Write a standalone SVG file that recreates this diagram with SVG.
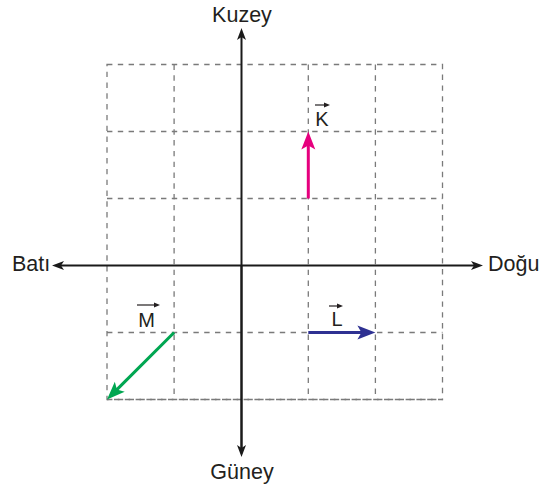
<svg xmlns="http://www.w3.org/2000/svg" width="550" height="488" viewBox="0 0 550 488">
<style>
.grid{stroke:#7a7a7a;stroke-width:1.3;stroke-dasharray:5.4 5.4;fill:none}
.axis{stroke:#1a1a1a;stroke-width:2;fill:none}
.lbl{font-family:"Liberation Sans",Arial,sans-serif;font-size:21.5px;fill:#231f20}
.vl{font-family:"Liberation Sans",Arial,sans-serif;font-size:20px;fill:#231f20}
.small{stroke:#231f20;stroke-width:1.2;fill:none}
</style>
<defs>
<marker id="ah" markerUnits="userSpaceOnUse" viewBox="-8 -6 16 12" markerWidth="16" markerHeight="12" refX="0" refY="0" orient="auto" overflow="visible">
<path d="M-6,-4.5 L6,0 L-6,4.5 L-3,0 Z" fill="#1a1a1a"/>
</marker>
<marker id="sh" markerUnits="userSpaceOnUse" viewBox="-6 -4 10 8" markerWidth="10" markerHeight="8" refX="0" refY="0" orient="auto" overflow="visible">
<path d="M-3,-2.5 L3,0 L-3,2.5 Z" fill="#231f20"/>
</marker>
<marker id="mk" markerUnits="userSpaceOnUse" viewBox="-10 -8 22 16" markerWidth="22" markerHeight="16" refX="0" refY="0" orient="auto" overflow="visible">
<path d="M-8,-7 L10,0 L-8,7 L-4,0 Z" fill="#e6007e"/>
</marker>
<marker id="ml" markerUnits="userSpaceOnUse" viewBox="-10 -8 22 16" markerWidth="22" markerHeight="16" refX="0" refY="0" orient="auto" overflow="visible">
<path d="M-8,-7 L10,0 L-8,7 L-4,0 Z" fill="#2e3192"/>
</marker>
<marker id="mm" markerUnits="userSpaceOnUse" viewBox="-10 -8 22 16" markerWidth="22" markerHeight="16" refX="0" refY="0" orient="auto" overflow="visible">
<path d="M-8,-7 L10,0 L-8,7 L-4,0 Z" fill="#00a651"/>
</marker>
</defs>
<g id="grid">
<rect class="grid" x="107" y="64.5" width="335.5" height="335"/>
<path class="grid" d="M174.1,64.5V399.5M308.3,64.5V399.5M375.4,64.5V399.5M107,131.5H442.5M107,198.5H442.5M107,332.5H442.5M107,399.5H442.5"/>
</g>
<g id="connectors">
<line class="axis" x1="241.5" y1="451" x2="241.5" y2="34" marker-end="url(#ah)"/>
<line class="axis" x1="241.5" y1="265.5" x2="241.5" y2="451" marker-end="url(#ah)"/>
<line class="axis" x1="241.5" y1="265.5" x2="477" y2="265.5" marker-end="url(#ah)"/>
<line class="axis" x1="241.5" y1="265.5" x2="58" y2="265.5" marker-end="url(#ah)"/>
</g>
<g id="vector-K">
<line x1="308.3" y1="198.5" x2="308.3" y2="141.5" stroke="#e6007e" stroke-width="3" marker-end="url(#mk)"/>
<text class="vl" x="322" y="126" text-anchor="middle">K</text>
<line class="small" x1="315" y1="105" x2="327" y2="105" marker-end="url(#sh)"/>
</g>
<g id="vector-L">
<line x1="308.3" y1="332.5" x2="365.4" y2="332.5" stroke="#2e3192" stroke-width="3" marker-end="url(#ml)"/>
<text class="vl" x="337" y="326" text-anchor="middle">L</text>
<line class="small" x1="329" y1="306" x2="340" y2="306" marker-end="url(#sh)"/>
</g>
<g id="vector-M">
<line x1="174.1" y1="332.5" x2="114.1" y2="392.4" stroke="#00a651" stroke-width="3" marker-end="url(#mm)"/>
<text class="vl" x="146.5" y="327" text-anchor="middle">M</text>
<line class="small" x1="137" y1="305" x2="157" y2="305" marker-end="url(#sh)"/>
</g>
<g id="label-kuzey"><text class="lbl" x="242" y="22" text-anchor="middle">Kuzey</text></g>
<g id="label-guney"><text class="lbl" x="242" y="479" text-anchor="middle">Güney</text></g>
<g id="label-bati"><text class="lbl" x="12" y="271">Batı</text></g>
<g id="label-dogu"><text class="lbl" x="488" y="271">Doğu</text></g>
</svg>
